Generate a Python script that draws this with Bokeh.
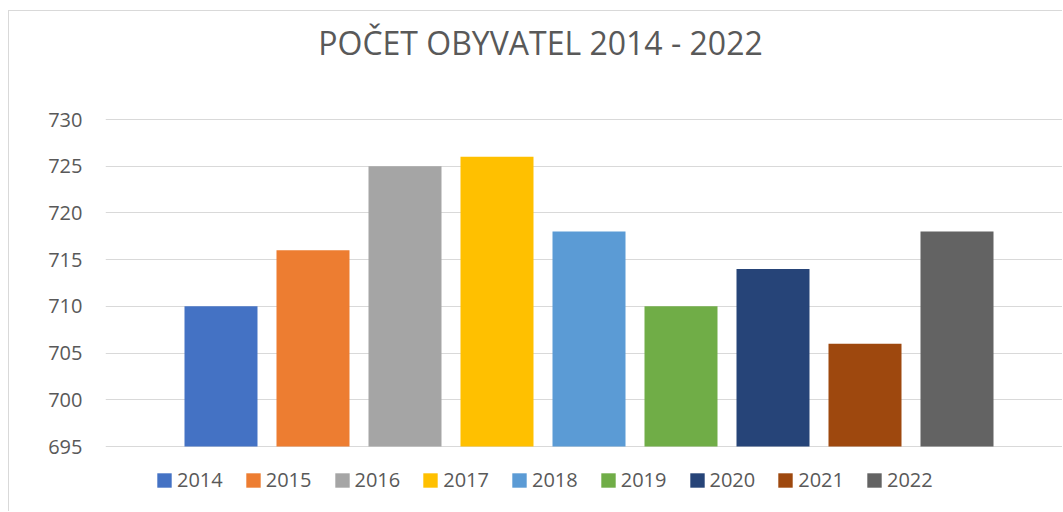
from bokeh.plotting import figure
from bokeh.models import Range1d, FixedTicker, Legend, LegendItem, Label
from bokeh.embed import file_html
from bokeh.resources import INLINE

years = ["2014", "2015", "2016", "2017", "2018", "2019", "2020", "2021", "2022"]
values = [710, 716, 725, 726, 718, 710, 714, 706, 718]
colors = ["#4472C4", "#ED7D31", "#A5A5A5", "#FFC000", "#5B9BD5",
          "#70AD47", "#264478", "#9E480E", "#636363"]
yticks = [695, 700, 705, 710, 715, 720, 725, 730]
title_text = "POČET OBYVATEL 2014 - 2022"

FONT = "Open Sans"
TXT = "#595959"
GRID = "#d9d9d9"

p = figure(width=1054, height=501, output_backend="svg", toolbar_location=None,
           x_axis_location=None,
           x_range=Range1d(-1.2554, 9.1576), y_range=Range1d(687.936, 741.56),
           min_border_left=96, min_border_right=0, min_border_top=0,
           min_border_bottom=0)
p.background_fill_color = "white"
p.border_fill_color = "white"
p.outline_line_color = None
p.styles = {"margin-left": "8px", "margin-top": "10px",
            "border-left": "1px solid #d9d9d9", "border-top": "1px solid #d9d9d9"}

items = []
for i, (yr, v, c) in enumerate(zip(years, values, colors)):
    r = p.vbar(x=[i], top=[v], bottom=yticks[0], width=0.7935,
               fill_color=c, line_color=None)
    items.append(LegendItem(label=yr, renderers=[r]))

p.xgrid.visible = False
p.ygrid.grid_line_color = GRID
p.ygrid.grid_line_width = 1

ax = p.yaxis[0]
ax.ticker = FixedTicker(ticks=yticks)
ax.axis_line_color = None
ax.major_tick_line_color = None
ax.minor_tick_line_color = None
ax.major_tick_out = 0
ax.major_tick_in = 0
ax.major_label_standoff = 23
ax.major_label_text_font = FONT
ax.major_label_text_font_size = "20px"
ax.major_label_text_color = TXT

legend = Legend(items=items, orientation="horizontal", location=(50, 19))
legend.padding = 0
legend.margin = 0
legend.spacing = 21
legend.glyph_width = 18
legend.glyph_height = 18
legend.label_height = 20
legend.label_standoff = 4
legend.border_line_color = None
legend.background_fill_alpha = 0
legend.label_text_font = FONT
legend.label_text_font_size = "20px"
legend.label_text_color = TXT
p.add_layout(legend, "center")

title = Label(x=435, y=470, x_units="screen", y_units="screen", text=title_text,
              text_align="center", text_baseline="middle", text_font=FONT,
              text_font_size="32px", text_color=TXT)
p.add_layout(title)

open("out.html", "w").write(file_html(p, INLINE))
